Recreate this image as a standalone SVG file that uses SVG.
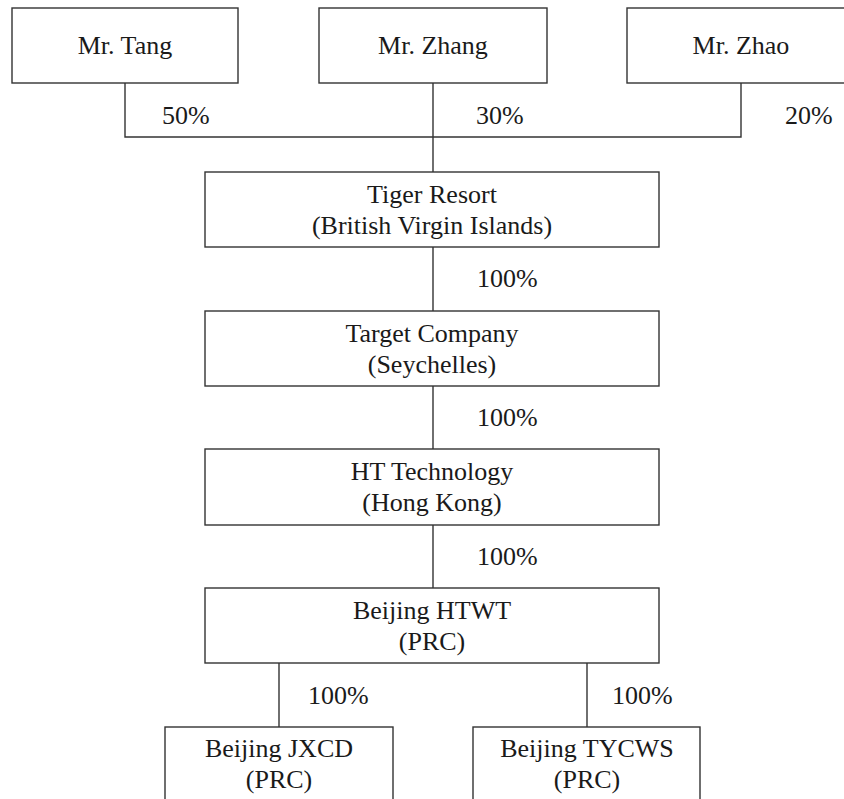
<svg xmlns="http://www.w3.org/2000/svg" width="844" height="799" viewBox="0 0 844 799">
<style>
.box{fill:#fff;stroke:#333;stroke-width:1.4}
.ln{fill:none;stroke:#333;stroke-width:1.4}
text{font-family:"Liberation Serif","Times New Roman",serif;font-size:26px;fill:#1a1a1a}
.c{text-anchor:middle}
</style>
<rect width="844" height="799" fill="#fff"/>
<g id="connectors">
<polyline class="ln" points="125,83 125,137 741,137 741,83"/>
<line class="ln" x1="433" y1="83" x2="433" y2="172"/>
<line class="ln" x1="433" y1="247" x2="433" y2="311"/>
<line class="ln" x1="433" y1="386" x2="433" y2="449"/>
<line class="ln" x1="433" y1="525" x2="433" y2="588"/>
<line class="ln" x1="279" y1="663" x2="279" y2="727"/>
<line class="ln" x1="587" y1="663" x2="587" y2="727"/>
<text x="162" y="124">50%</text>
<text x="476" y="124">30%</text>
<text x="785" y="124">20%</text>
<text x="477" y="287">100%</text>
<text x="477" y="426">100%</text>
<text x="477" y="565">100%</text>
<text x="308" y="704">100%</text>
<text x="612" y="704">100%</text>
</g>
<g id="tang"><rect class="box" x="12" y="8" width="226" height="75"/><text class="c" x="125" y="54">Mr. Tang</text></g>
<g id="zhang"><rect class="box" x="319" y="8" width="228" height="75"/><text class="c" x="433" y="54">Mr. Zhang</text></g>
<g id="zhao"><rect class="box" x="627" y="8" width="230" height="75"/><text class="c" x="741" y="54">Mr. Zhao</text></g>
<g id="tiger"><rect class="box" x="205" y="172" width="454" height="75"/><text class="c" x="432" y="203">Tiger Resort</text><text class="c" x="432" y="234">(British Virgin Islands)</text></g>
<g id="target"><rect class="box" x="205" y="311" width="454" height="75"/><text class="c" x="432" y="342">Target Company</text><text class="c" x="432" y="373">(Seychelles)</text></g>
<g id="ht"><rect class="box" x="205" y="449" width="454" height="76"/><text class="c" x="432" y="480">HT Technology</text><text class="c" x="432" y="511">(Hong Kong)</text></g>
<g id="htwt"><rect class="box" x="205" y="588" width="454" height="75"/><text class="c" x="432" y="619">Beijing HTWT</text><text class="c" x="432" y="650">(PRC)</text></g>
<g id="jxcd"><rect class="box" x="165" y="727" width="228" height="90"/><text class="c" x="279" y="757">Beijing JXCD</text><text class="c" x="279" y="788">(PRC)</text></g>
<g id="tycws"><rect class="box" x="473" y="727" width="227" height="90"/><text class="c" x="587" y="757">Beijing TYCWS</text><text class="c" x="587" y="788">(PRC)</text></g>
</svg>
